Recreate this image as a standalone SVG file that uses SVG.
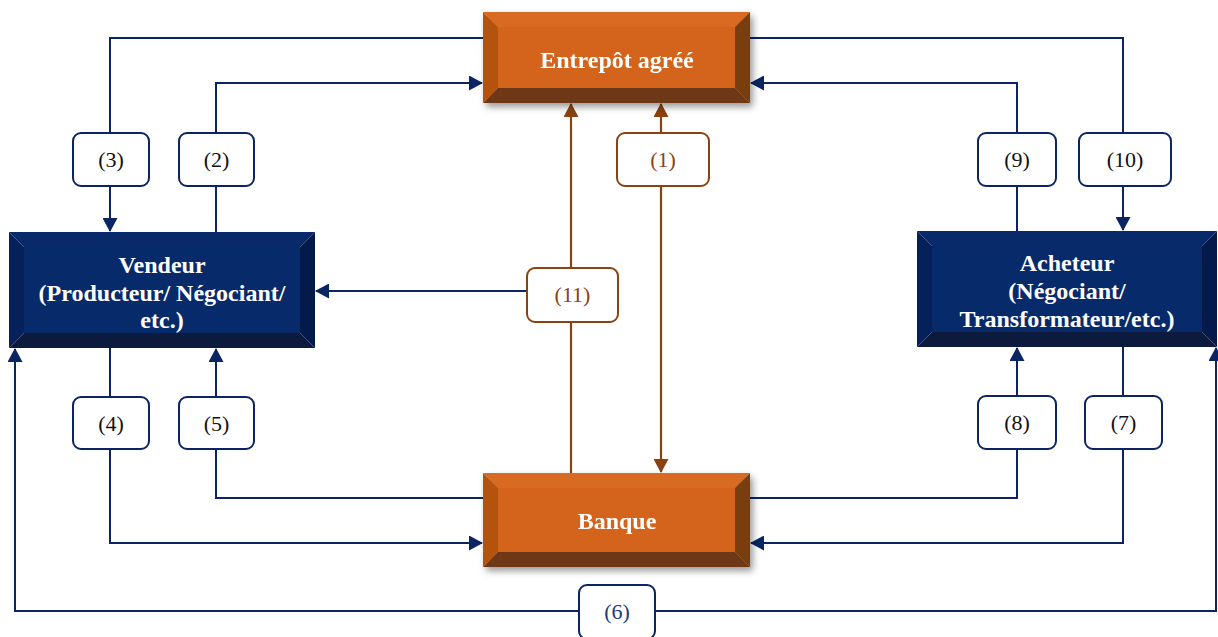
<svg xmlns="http://www.w3.org/2000/svg" width="1218" height="637" viewBox="0 0 1218 637">
<style>
.ln{fill:none;stroke:#0a2464;stroke-width:2}
.lb{fill:none;stroke:#8a4210;stroke-width:2.2}
.box{fill:#fff;stroke:#0a2464;stroke-width:2}
.boxb{fill:#fff;stroke:#8a4210;stroke-width:2}
.lt{font-family:"Liberation Serif","Times New Roman",serif;font-size:22px;fill:#111;text-anchor:middle}
.ltb{fill:#8a4210}
.ltn{fill:#1f3a78}
.nt{font-family:"Liberation Serif","Times New Roman",serif;font-size:24px;font-weight:bold;fill:#fff;text-anchor:middle}
.of{fill:#d4641a}.ot{fill:#d96b20}.ol{fill:#b3520f}.or{fill:#7a3c10}.ob{fill:#6e3914}
.nf{fill:#072a6b}.ntp{fill:#08296a}.nl{fill:#06215a}.nr{fill:#041a4a}.nb{fill:#0c1b3d}
</style>
<defs>
<marker id="an" markerUnits="userSpaceOnUse" markerWidth="14" markerHeight="15" refX="13" refY="7.5" orient="auto"><path d="M0,0 L14,7.5 L0,15 z" fill="#0a2464"/></marker>
<marker id="ab" markerUnits="userSpaceOnUse" markerWidth="14" markerHeight="15" refX="13" refY="7.5" orient="auto"><path d="M0,0 L14,7.5 L0,15 z" fill="#8a4210"/></marker>
<filter id="sh" x="-10%" y="-10%" width="125%" height="135%"><feDropShadow dx="3" dy="4" stdDeviation="3.5" flood-color="#000" flood-opacity="0.4"/></filter>
</defs>

<g id="connectors">
<path class="ln" d="M483,38 H110 V133"/>
<path class="ln" d="M110,186 V231" marker-end="url(#an)"/>
<path class="ln" d="M216,232 V186"/>
<path class="ln" d="M216,133 V83 H482" marker-end="url(#an)"/>
<path class="ln" d="M110,348 V397"/>
<path class="ln" d="M110,449 V543 H482" marker-end="url(#an)"/>
<path class="ln" d="M483,498 H216 V449"/>
<path class="ln" d="M216,397 V349" marker-end="url(#an)"/>
<path class="ln" d="M579,611 H15 V349" marker-end="url(#an)"/>
<path class="ln" d="M655,611 H1216 V348" marker-end="url(#an)"/>
<path class="ln" d="M1123,347 V396"/>
<path class="ln" d="M1123,449 V543 H751" marker-end="url(#an)"/>
<path class="ln" d="M750,498 H1017 V449"/>
<path class="ln" d="M1017,396 V348" marker-end="url(#an)"/>
<path class="ln" d="M1017,231 V186"/>
<path class="ln" d="M1017,133 V83 H751" marker-end="url(#an)"/>
<path class="ln" d="M750,38 H1123 V133"/>
<path class="ln" d="M1123,186 V230" marker-end="url(#an)"/>
<path class="lb" d="M571,473 V322"/>
<path class="lb" d="M571,268 V104" marker-end="url(#ab)"/>
<path class="ln" d="M527,291 H316" marker-end="url(#an)"/>
<path class="lb" d="M661,133 V104" marker-end="url(#ab)"/>
<path class="lb" d="M661,186 V472" marker-end="url(#ab)"/>
</g>

<g id="entrepot" filter="url(#sh)">
<rect class="of" x="498" y="27" width="237" height="61"/>
<polygon class="ot" points="483,12 750,12 735,27 498,27"/>
<polygon class="ol" points="483,12 498,27 498,88 483,103"/>
<polygon class="or" points="750,12 750,103 735,88 735,27"/>
<polygon class="ob" points="483,103 498,88 735,88 750,103"/>
<text class="nt" x="617" y="68">Entrepôt agréé</text>
</g>

<g id="banque" filter="url(#sh)">
<rect class="of" x="498" y="488" width="237" height="64"/>
<polygon class="ot" points="483,473 750,473 735,488 498,488"/>
<polygon class="ol" points="483,473 498,488 498,552 483,567"/>
<polygon class="or" points="750,473 750,567 735,552 735,488"/>
<polygon class="ob" points="483,567 498,552 735,552 750,567"/>
<text class="nt" x="617" y="529">Banque</text>
</g>

<g id="vendeur">
<rect class="nf" x="24" y="247" width="276" height="86"/>
<polygon class="ntp" points="9,232 315,232 300,247 24,247"/>
<polygon class="nl" points="9,232 24,247 24,333 9,348"/>
<polygon class="nr" points="315,232 315,348 300,333 300,247"/>
<polygon class="nb" points="9,348 24,333 300,333 315,348"/>
<text class="nt" x="162" y="273">Vendeur</text>
<text class="nt" x="162" y="301">(Producteur/ Négociant/</text>
<text class="nt" x="162" y="328">etc.)</text>
</g>

<g id="acheteur">
<rect class="nf" x="932" y="246" width="270" height="86"/>
<polygon class="ntp" points="917,231 1217,231 1202,246 932,246"/>
<polygon class="nl" points="917,231 932,246 932,332 917,347"/>
<polygon class="nr" points="1217,231 1217,347 1202,332 1202,246"/>
<polygon class="nb" points="917,347 932,332 1202,332 1217,347"/>
<text class="nt" x="1067" y="271">Acheteur</text>
<text class="nt" x="1067" y="299">(Négociant/</text>
<text class="nt" x="1067" y="327">Transformateur/etc.)</text>
</g>

<g id="l3"><rect class="box" x="73" y="133" width="76" height="53" rx="8"/><text class="lt" x="111" y="167">(3)</text></g>
<g id="l2"><rect class="box" x="179" y="133" width="75" height="53" rx="8"/><text class="lt" x="216.5" y="167">(2)</text></g>
<g id="l4"><rect class="box" x="73" y="397" width="76" height="52" rx="8"/><text class="lt" x="111" y="431">(4)</text></g>
<g id="l5"><rect class="box" x="179" y="397" width="75" height="52" rx="8"/><text class="lt" x="216.5" y="431">(5)</text></g>
<g id="l9"><rect class="box" x="978" y="133" width="78" height="53" rx="8"/><text class="lt" x="1017" y="167">(9)</text></g>
<g id="l10"><rect class="box" x="1079" y="133" width="92" height="53" rx="8"/><text class="lt" x="1125" y="167">(10)</text></g>
<g id="l8"><rect class="box" x="978" y="396" width="78" height="53" rx="8"/><text class="lt" x="1017" y="430">(8)</text></g>
<g id="l7"><rect class="box" x="1085" y="396" width="77" height="53" rx="8"/><text class="lt" x="1123.5" y="430">(7)</text></g>
<g id="l1"><rect class="boxb" x="617" y="133" width="92" height="53" rx="8"/><text class="lt ltb" x="663" y="167">(1)</text></g>
<g id="l11"><rect class="boxb" x="527" y="268" width="91" height="54" rx="8"/><text class="lt ltb" x="572.5" y="302">(11)</text></g>
<g id="l6"><rect class="box" x="579" y="585" width="76" height="54" rx="8"/><text class="lt ltn" x="617" y="619">(6)</text></g>
</svg>
